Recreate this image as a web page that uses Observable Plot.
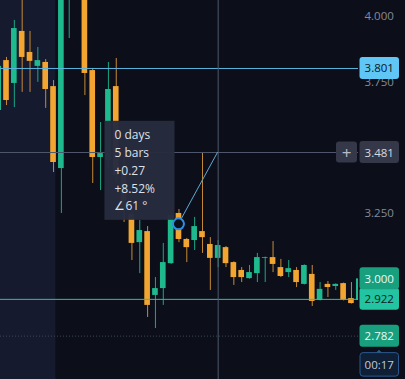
<!DOCTYPE html>
<html>
<head>
<meta charset="utf-8">
<script src="https://cdn.jsdelivr.net/npm/d3@7"></script>
<script src="https://cdn.jsdelivr.net/npm/@observablehq/plot@0.6"></script>
<style>
  html, body { margin: 0; padding: 0; background: #0c0f1a; overflow: hidden; }
  #chart svg { display: block; }
</style>
</head>
<body>
<div id="chart"></div>
<script>
// ---- price bars (bar index, OHLC) ----
const barIndex = d3.range(-1, 46);
const opens  = [3.641, 3.831, 3.744, 3.942, 3.862, 3.809, 3.824, 3.732, 3.420, 4.100,
                4.300, 4.098, 3.793, 3.462, 3.451, 3.732, 3.413, 3.245, 3.138, 3.180,
                2.937, 2.963, 3.058, 3.249, 3.150, 3.146, 3.180, 3.131, 3.078, 3.119,
                3.062, 3.032, 3.001, 3.020, 3.078, 3.081, 3.043, 3.024, 3.032, 2.979,
                3.017, 2.918, 2.979, 2.971, 2.982, 2.925, 2.918];
const highs  = [3.831, 3.843, 3.984, 4.079, 3.942, 3.881, 3.835, 3.755, 4.174, 4.280,
                4.330, 4.120, 3.801, 3.595, 3.824, 3.839, 3.489, 3.279, 3.222, 3.199,
                3.005, 3.135, 3.253, 3.264, 3.154, 3.234, 3.481, 3.157, 3.146, 3.123,
                3.065, 3.043, 3.051, 3.097, 3.083, 3.142, 3.074, 3.070, 3.043, 3.053,
                3.051, 2.986, 2.990, 2.981, 2.984, 2.986, 3.002];
const lows   = [3.622, 3.660, 3.652, 3.710, 3.710, 3.748, 3.649, 3.405, 3.249, 3.915,
                4.080, 3.698, 3.363, 3.336, 3.420, 3.367, 3.215, 3.070, 3.020, 2.853,
                2.811, 2.899, 3.055, 3.138, 3.062, 3.108, 3.097, 2.956, 3.043, 3.043,
                2.975, 2.986, 2.999, 2.986, 2.986, 3.024, 3.005, 3.005, 2.967, 2.977,
                2.895, 2.916, 2.929, 2.956, 2.916, 2.904, 2.916];
const closes = [3.809, 3.679, 3.953, 3.843, 3.828, 3.831, 3.721, 3.443, 4.136, 4.250,
                4.150, 3.782, 3.462, 3.477, 3.721, 3.394, 3.260, 3.135, 3.184, 2.899,
                2.963, 3.062, 3.241, 3.150, 3.119, 3.199, 3.157, 3.078, 3.127, 3.058,
                3.005, 3.005, 3.024, 3.081, 3.081, 3.055, 3.009, 3.039, 2.986, 3.051,
                2.914, 2.960, 2.967, 2.979, 2.918, 2.906, 3.000];

// ---- price scale ----
// 3.500 / 3.000 / 2.750 sit under the price tags, so only these are printed
const priceTicks = [4.0, 3.75, 3.25];
const priceRange = [2.6169, 4.0598];
const barRange = [-0.765, 44.9];

// extended-hours session (bar index where the regular session begins)
const sessionStart = 6.3;

// ---- levels and labels ----
const alertPrice = 3.801;
const markPrice = 3.000;
const linePrice = 2.922;
const lastPrice = 2.782;
const countdown = "00:17";

// crosshair and price-range measurement
const crossBar = 27, crossPrice = 3.481;
const measureFromBar = 22, measureFromPrice = 3.2077;
const measureDays = 0;

const candles = barIndex.map((i, k) => ({
  i, open: opens[k], high: highs[k], low: lows[k], close: closes[k]
}));

const UP = "#1fb98e", DOWN = "#f2a531";
const UP_WICK = "#1aa882", DOWN_WICK = "#c68a36";
const W = 405, H = 379, MR = 47;
const FONT = "'Open Sans', 'Noto Sans', sans-serif";

const chart = Plot.plot({
  width: W, height: H,
  marginLeft: 0, marginRight: MR, marginTop: 0, marginBottom: 0,
  style: { background: "#0c0f1a", fontFamily: FONT },
  x: { type: "linear", domain: barRange, axis: null },
  y: { domain: priceRange, axis: null },
  marks: [
    Plot.rect([{ a: barRange[0], b: sessionStart }], { x1: "a", x2: "b", fill: "#151a2f" }),
    Plot.ruleX(candles, {
      x: "i", y1: "low", y2: "high",
      stroke: d => d.close >= d.open ? UP_WICK : DOWN_WICK, strokeWidth: 1, clip: true
    }),
    Plot.rect(candles, {
      x1: d => d.i - 0.36, x2: d => d.i + 0.36, y1: "open", y2: "close",
      fill: d => d.close >= d.open ? UP : DOWN, clip: true
    }),
    Plot.ruleY([lastPrice], { stroke: "#3d4657", strokeDasharray: "1 2" }),
    Plot.ruleY([linePrice], { stroke: "#26c3a2" }),
    Plot.ruleY([alertPrice], { stroke: "#5cb4e0" }),
    Plot.ruleX([crossBar], { stroke: "#4f586c" }),
    Plot.ruleY([crossPrice], { stroke: "#4f586c" }),
    Plot.axisY({
      ticks: priceTicks, anchor: "right", tickSize: 0, tickPadding: 6,
      tickFormat: d3.format(".3f"), color: "#858a98", fontSize: 11.5
    })
  ]
});

document.getElementById("chart").appendChild(chart);

// ---- overlays drawn with the chart's own scales ----
const xs = chart.scale("x"), ys = chart.scale("y");
const X = v => xs.apply(v), Y = v => ys.apply(v);
const svg = d3.select(chart);
const right = W - MR;
const fmt = d3.format(".3f");

// measurement line, anchor circle and info box
const x0 = X(measureFromBar), y0 = Y(measureFromPrice);
const x1 = X(crossBar), y1 = Y(crossPrice);
svg.append("line")
  .attr("x1", x0).attr("y1", y0).attr("x2", x1).attr("y2", y1)
  .attr("stroke", "#5ea9d6").attr("stroke-width", 1);
svg.append("circle")
  .attr("cx", x0).attr("cy", y0).attr("r", 5.5)
  .attr("fill", "#0c0f1a").attr("stroke", "#2d8fe6").attr("stroke-width", 2);

const diff = crossPrice - measureFromPrice;
const pct = diff / measureFromPrice * 100;
const angle = Math.atan2(y0 - y1, x1 - x0) * 180 / Math.PI;
const sign = v => (v >= 0 ? "+" : "");
const infoLines = [
  `${measureDays} days`,
  `${crossBar - measureFromBar} bars`,
  `${sign(diff)}${diff.toFixed(2)}`,
  `${sign(pct)}${pct.toFixed(2)}%`,
  `\u2220${Math.round(angle)} \u00b0`
];
const boxW = 70, boxH = 99;
const bx = x0 - 4 - boxW, by = y0 - 4 - boxH;
const info = svg.append("g").attr("transform", `translate(${bx},${by})`);
info.append("rect").attr("width", boxW).attr("height", boxH)
  .attr("fill", "#272b3f").attr("opacity", 0.97);
info.selectAll("text").data(infoLines).join("text")
  .attr("x", 10).attr("y", (d, k) => 14 + k * 17.75)
  .attr("text-anchor", "start")
  .attr("dominant-baseline", "central")
  .attr("fill", "#dde1ea").attr("font-size", 12).attr("font-family", FONT)
  .text(d => d);

// price-scale labels
function priceTag(price, fill, color, text) {
  const cy = Y(price);
  const g = svg.append("g");
  g.append("rect").attr("x", right + 1.5).attr("y", cy - 11)
    .attr("width", 39.5).attr("height", 22).attr("rx", 3).attr("fill", fill);
  g.append("text").attr("x", right + 21.25).attr("y", cy)
    .attr("text-anchor", "middle").attr("dominant-baseline", "central")
    .attr("fill", color).attr("font-size", 11.5).attr("font-family", FONT)
    .text(text ?? fmt(price));
  return g;
}
priceTag(alertPrice, "#5fc6f5", "#0d1624");
priceTag(linePrice, "#22c4a1", "#0b1c1a");
priceTag(markPrice, "#179f7e", "#eafaf4");
priceTag(lastPrice, "#179f7e", "#eafaf4");
priceTag(crossPrice, "#343848", "#d7dae2");

// crosshair "+" button
const pc = Y(crossPrice);
svg.append("rect").attr("x", right - 22).attr("y", pc - 10.5)
  .attr("width", 21).attr("height", 21).attr("rx", 3).attr("fill", "#343848");
svg.append("text").attr("x", right - 11.5).attr("y", pc)
  .attr("text-anchor", "middle").attr("dominant-baseline", "central")
  .attr("fill", "#b8bcc6").attr("font-size", 17).attr("font-family", FONT).text("+");

// bar countdown under the last price
const ct = Y(lastPrice) + 17;
svg.append("path")
  .attr("d", `M${right + 18},${ct} l3,-3 l3,3 z`).attr("fill", "#2c5a8e");
svg.append("rect").attr("x", right + 2).attr("y", ct)
  .attr("width", 38.5).attr("height", 23.5).attr("rx", 3)
  .attr("fill", "#0e1f36").attr("stroke", "#2c5a8e").attr("stroke-width", 1);
svg.append("text").attr("x", right + 21.25).attr("y", ct + 12)
  .attr("text-anchor", "middle").attr("dominant-baseline", "central")
  .attr("fill", "#c3cad6").attr("font-size", 11.5).attr("font-family", FONT)
  .text(countdown);
</script>
</body>
</html>
